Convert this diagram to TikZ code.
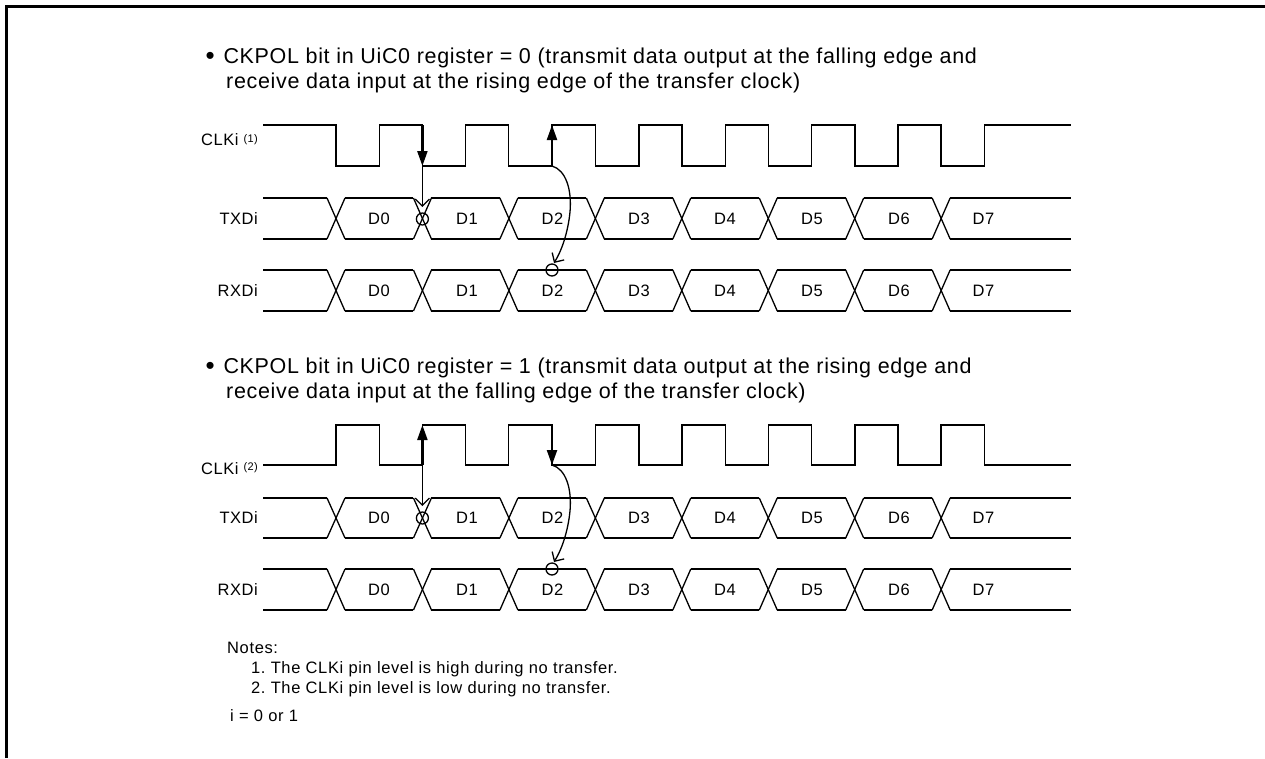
\documentclass[tikz,border=0pt]{standalone}
\usepackage{fontspec}
\setmainfont{Liberation Sans}
\newfontfamily\headfont[LetterSpace=3.1]{Liberation Sans}
\newfontfamily\smallfont[LetterSpace=3.2]{Liberation Sans}
\newfontfamily\notefont[LetterSpace=3.8]{Liberation Sans}
\usetikzlibrary{arrows.meta}
\frenchspacing
\newcommand{\bigbullet}{\raisebox{-1.6pt}{\fontsize{26}{26}\selectfont •}\hspace{8.7pt}}
\tikzset{
  sig/.style={line width=1.3pt,line join=miter},
  frameline/.style={line width=3pt},
  head/.style={font=\headfont\fontsize{21.5}{25}\selectfont,anchor=base west,inner sep=0pt,align=left},
  lab/.style={font=\smallfont\fontsize{16.5}{18}\selectfont,anchor=base east,inner sep=0pt},
  dat/.style={font=\smallfont\fontsize{16.5}{18}\selectfont,anchor=base,inner sep=0pt},
  note/.style={font=\notefont\fontsize{16.5}{18}\selectfont,anchor=base west,inner sep=0pt},
  thickarrow/.style={line width=2.2pt,-{Triangle[length=15pt,width=10pt]}},
  thinarrow/.style={line width=1.3pt,-{Straight Barb[length=7pt,width=14pt,line width=1.3pt]}},
  ringmark/.style={circle,draw,line width=1.3pt,minimum size=12pt,inner sep=0pt}
}
\newcommand{\busrow}[3]{%
  % #1 top, #2 bottom, #3 label
  \pgfmathsetmacro{\ymid}{(#1+#2)/2}
  \node[lab] (lab#3) at (258,\ymid+5.5) {#3};
  \foreach \k in {0,...,7}{
    \pgfmathsetmacro{\xc}{336+86.45*\k}
    \draw[sig] (\xc-9,#1) -- (\xc+9,#2);
    \draw[sig] (\xc-9,#2) -- (\xc+9,#1);
  }
  \draw[sig] (263,#1) -- (327,#1);
  \draw[sig] (263,#2) -- (327,#2);
  \foreach \k in {0,...,6}{
    \pgfmathsetmacro{\xa}{336+86.45*\k+9}
    \pgfmathsetmacro{\xb}{336+86.45*(\k+1)-9}
    \draw[sig] (\xa,#1) -- (\xb,#1);
    \draw[sig] (\xa,#2) -- (\xb,#2);
  }
  \draw[sig] (950,#1) -- (1071,#1);
  \draw[sig] (950,#2) -- (1071,#2);
  \foreach \t/\x in {D0/379,D1/467,D2/552.5,D3/639,D4/725,D5/812,D6/899,D7/983.5}{
    \node[dat] at (\x,\ymid+5.5) {\t};
  }
}
\begin{document}
\begin{tikzpicture}[x=1pt,y=-1pt]
\useasboundingbox (0,0) rectangle (1265,758);
\draw[frameline] (6.5,758) -- (6.5,6.5) -- (1265,6.5);

% Upper block
\node[head] (h1a) at (205.5,63) {\bigbullet CKPOL bit in UiC0 register = 0 (transmit data output at the falling edge and};
\node[head] (h1b) at (226,88.5) {receive data input at the rising edge of the transfer clock)};
\node[lab] (clk1) at (258,145.5) {CLKi {\fontsize{11}{12}\selectfont\raisebox{3.5pt}{(1)}}};
\draw[sig] (263,125) -- (336,125) -- (336,166) -- (379.2,166) -- (379.2,125) -- (422.4,125) -- (422.4,166) -- (465.6,166) -- (465.6,125) -- (508.8,125) -- (508.8,166) -- (552,166) -- (552,125) -- (595.6,125) -- (595.6,166) -- (638.9,166) -- (638.9,125) -- (682,125) -- (682,166) -- (725.4,166) -- (725.4,125) -- (768.6,125) -- (768.6,166) -- (811.8,166) -- (811.8,125) -- (855,125) -- (855,166) -- (898,166) -- (898,125) -- (941,125) -- (941,166) -- (984.5,166) -- (984.5,125) -- (1071,125);
\busrow{198}{239}{TXDi}
\busrow{270}{311}{RXDi}
\coordinate (a1t) at (422.4,125);
\coordinate (a1b) at (422.4,166);
\coordinate (a1e) at (422.4,207);
\coordinate (a2b) at (552,166);
\coordinate (a2t) at (552,125);
\coordinate (a2e) at (554,263);
\node[ringmark] (r1) at (422.4,219) {};
\node[ringmark] (r2) at (552,270) {};
\draw[thickarrow] (a1t) -- (a1b);
\draw[thinarrow] (a1b) -- (a1e);
\draw[thickarrow] (a2b) -- (a2t);
\draw[thinarrow] (a2b) .. controls (566,170) and (572,190) .. (570,212) .. controls (568,232) and (562,250) .. (a2e);

% Lower block
\node[head] (h2a) at (205.5,373) {\bigbullet CKPOL bit in UiC0 register = 1 (transmit data output at the rising edge and};
\node[head] (h2b) at (226,398.5) {receive data input at the falling edge of the transfer clock)};
\node[lab] (clk2) at (258,474) {CLKi {\fontsize{11}{12}\selectfont\raisebox{3.5pt}{(2)}}};
\draw[sig] (263,465) -- (336,465) -- (336,425) -- (379.2,425) -- (379.2,465) -- (422.4,465) -- (422.4,425) -- (465.6,425) -- (465.6,465) -- (508.8,465) -- (508.8,425) -- (552,425) -- (552,465) -- (595.6,465) -- (595.6,425) -- (638.9,425) -- (638.9,465) -- (682,465) -- (682,425) -- (725.4,425) -- (725.4,465) -- (768.6,465) -- (768.6,425) -- (811.8,425) -- (811.8,465) -- (855,465) -- (855,425) -- (898,425) -- (898,465) -- (941,465) -- (941,425) -- (984.5,425) -- (984.5,465) -- (1071,465);
\busrow{498}{538}{TXDi}
\busrow{569}{610}{RXDi}
\coordinate (b1t) at (422.4,425);
\coordinate (b1b) at (422.4,465);
\coordinate (b1e) at (422.4,506);
\coordinate (b2b) at (552,465);
\coordinate (b2t) at (552,425);
\coordinate (b2e) at (554,562);
\node[ringmark] (r3) at (422.4,518) {};
\node[ringmark] (r4) at (552,569) {};
\draw[thickarrow] (b1b) -- (b1t);
\draw[thinarrow] (b1b) -- (b1e);
\draw[thickarrow] (b2t) -- (b2b);
\draw[thinarrow] (b2b) .. controls (566,469) and (572,489) .. (570,511) .. controls (568,531) and (562,549) .. (b2e);

% Notes
\node[note] (n0) at (227,653) {Notes:};
\node[note] (n1) at (251,673) {1. The CLKi pin level is high during no transfer.};
\node[note] (n2) at (251,693) {2. The CLKi pin level is low during no transfer.};
\node[note] (n3) at (230,721) {i = 0 or 1};
\end{tikzpicture}
\end{document}
